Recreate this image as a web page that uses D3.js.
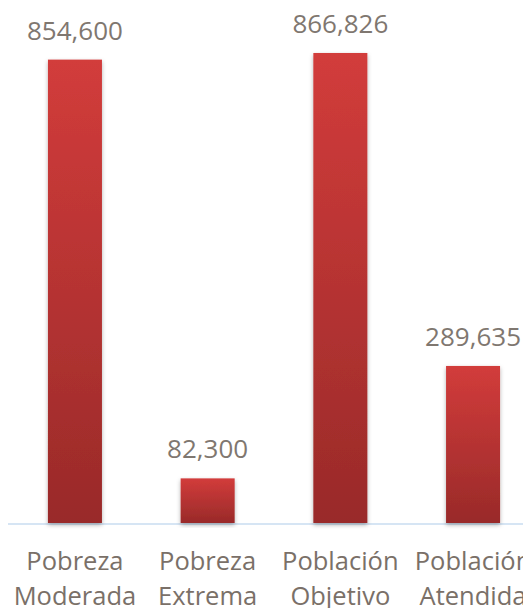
<!DOCTYPE html>
<html>
<head>
<meta charset="utf-8">
<script src="https://d3js.org/d3.v7.min.js"></script>
<style>
  body { margin: 0; background: #fff; overflow: hidden; }
  svg { display: block; }
</style>
</head>
<body>
<svg id="chart"></svg>
<script>
// chart values
let categories = ['Pobreza Moderada', 'Pobreza Extrema', 'Población Objetivo', 'Población Atendida']
let values = [854600, 82300, 866826, 289635]

let width = 523,
  height = 608,
  baseY = 523,
  topY = 35

let svg = d3.select('#chart')
  .attr('width', width)
  .attr('height', height)

let defs = svg.append('defs')

let grad = defs.append('linearGradient')
  .attr('id', 'barGrad')
  .attr('x1', 0).attr('y1', 0)
  .attr('x2', 0).attr('y2', 1)
grad.append('stop').attr('offset', '0%').attr('stop-color', '#d23c3b')
grad.append('stop').attr('offset', '100%').attr('stop-color', '#992a29')

let shadow = defs.append('filter')
  .attr('id', 'shadow')
  .attr('x', '-20%').attr('y', '-5%')
  .attr('width', '140%').attr('height', '115%')
shadow.append('feDropShadow')
  .attr('dx', 0).attr('dy', 2)
  .attr('stdDeviation', 2)
  .attr('flood-color', '#000')
  .attr('flood-opacity', 0.3)

let xScale = d3.scaleBand()
  .domain(categories)
  .range([8.6, 539.4])
  .paddingInner(0.593)
  .paddingOuter(0.2965)

let yScale = d3.scaleLinear()
  .domain([0, 900000])
  .range([baseY, topY])

// baseline
svg.append('line')
  .attr('x1', 8)
  .attr('x2', width)
  .attr('y1', baseY + 1)
  .attr('y2', baseY + 1)
  .attr('stroke', '#c9dcf0')
  .attr('stroke-width', 1.5)

svg.selectAll('rect.bar')
  .data(values)
  .enter().append('rect')
  .attr('class', 'bar')
  .attr('x', (d, i) => xScale(categories[i]))
  .attr('y', d => yScale(d))
  .attr('width', xScale.bandwidth())
  .attr('height', d => baseY - yScale(d))
  .attr('fill', 'url(#barGrad)')
  .attr('filter', 'url(#shadow)')

// value labels
svg.selectAll('text.value')
  .data(values)
  .enter().append('text')
  .attr('class', 'value')
  .attr('x', (d, i) => xScale(categories[i]) + xScale.bandwidth() / 2)
  .attr('y', d => yScale(d) - 20)
  .attr('text-anchor', 'middle')
  .style('font-family', '"Open Sans", sans-serif')
  .style('font-size', '26px')
  .style('fill', '#7f7770')
  .text(d => d3.format(',')(d))

// category labels, two lines each (the second line runs off the bottom like the original)
let catLabels = svg.selectAll('text.cat')
  .data(categories)
  .enter().append('text')
  .attr('class', 'cat')
  .attr('text-anchor', 'middle')
  .style('font-family', '"Open Sans", sans-serif')
  .style('font-size', '25.5px')
  .style('fill', '#7a7068')

catLabels.each(function(d) {
  let cx = xScale(d) + xScale.bandwidth() / 2
  let words = d.split(' ')
  d3.select(this).selectAll('tspan')
    .data(words)
    .enter().append('tspan')
    .attr('x', cx)
    .attr('y', (w, j) => 570 + j * 35)
    .text(w => w)
})
</script>
</body>
</html>
